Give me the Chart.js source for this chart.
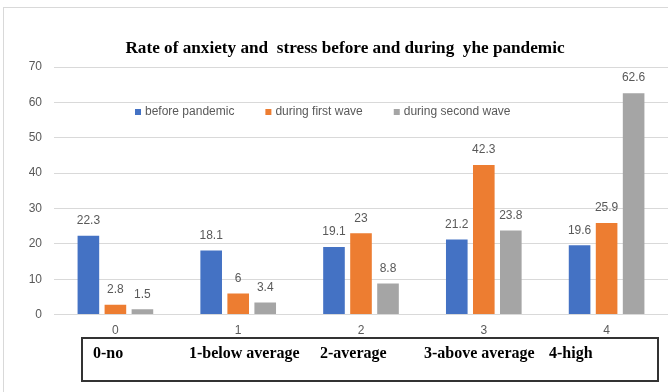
<!DOCTYPE html>
<html>
<head>
<meta charset="utf-8">
<script src="https://cdn.jsdelivr.net/npm/chart.js@4.4.0/dist/chart.umd.min.js"></script>
<style>
  html, body { margin: 0; padding: 0; background: #fff; }
  #wrap { position: relative; width: 668px; height: 392px; overflow: hidden; }
  #frame { position: absolute; left: 3px; top: 7px; width: 700px; height: 400px;
           border-left: 1px solid #d9d9d9; border-top: 1px solid #d9d9d9; }
  #chart { position: absolute; left: 0; top: 0; }
  #title { position: absolute; top: 38px; left: 0; width: 690px; text-align: center;
           font: bold 17.2px 'Liberation Serif', 'Times New Roman', serif; color: #000; white-space: pre; }
  #levels { position: absolute; left: 81px; top: 337px; width: 574px; height: 41px;
            border: 2px solid #333; }
  #levels span { position: absolute; top: 5px; font: bold 16px 'Liberation Serif', 'Times New Roman', serif;
                 color: #000; white-space: pre; }
</style>
</head>
<body>
<div id="wrap">
  <div id="frame"></div>
  <canvas id="chart" width="668" height="392"></canvas>
  <div id="title"></div>
  <div id="levels"></div>
</div>
<script>
// chart data
const categories = ['0', '1', '2', '3', '4'];
const seriesNames = ['before pandemic', 'during first wave', 'during second wave'];
const beforePandemic = [22.3, 18.1, 19.1, 21.2, 19.6];
const firstWave = [2.8, 6, 23, 42.3, 25.9];
const secondWave = [1.5, 3.4, 8.8, 23.8, 62.6];
const yMax = 70;
const yStep = 10;
const chartTitle = 'Rate of anxiety and  stress before and during  yhe pandemic';
const levelLabels = ['0-no', '1-below average', '2-average', '3-above average', '4-high'];

const colors = ['#4472C4', '#ED7D31', '#A5A5A5'];

document.getElementById('title').textContent = chartTitle;

// level legend box under the axis
const levelLeft = [10, 106, 237, 341, 466];
const levels = document.getElementById('levels');
levelLabels.forEach((txt, i) => {
    const s = document.createElement('span');
    s.textContent = txt;
    s.style.left = levelLeft[i] + 'px';
    levels.appendChild(s);
});

// values above each bar
const valueLabels = {
    id: 'valueLabels',
    afterDatasetsDraw(chart) {
        const ctx = chart.ctx;
        ctx.save();
        ctx.font = "12px 'Liberation Sans', Arial, sans-serif";
        ctx.fillStyle = '#595959';
        ctx.textAlign = 'center';
        ctx.textBaseline = 'middle';
        chart.data.datasets.forEach((ds, i) => {
            chart.getDatasetMeta(i).data.forEach((bar, j) => {
                ctx.fillText(String(ds.data[j]), bar.x, bar.y - 15);
            });
        });
        ctx.restore();
    }
};

// legend sits inside the plot area
const innerLegend = {
    id: 'innerLegend',
    afterDatasetsDraw(chart) {
        const ctx = chart.ctx;
        ctx.save();
        ctx.font = "12px 'Liberation Sans', Arial, sans-serif";
        ctx.textBaseline = 'middle';
        let x = 135;
        const y = 112;
        chart.data.datasets.forEach(ds => {
            ctx.fillStyle = ds.backgroundColor;
            ctx.fillRect(x, y - 3, 6, 6);
            ctx.fillStyle = '#595959';
            ctx.fillText(ds.label, x + 10, y);
            x += 10 + ctx.measureText(ds.label).width + 31;
        });
        ctx.restore();
    }
};

const ctx = document.getElementById('chart').getContext('2d');
new Chart(ctx, {
    type: 'bar',
    data: {
        labels: categories,
        datasets: [
            { label: seriesNames[0], data: beforePandemic, backgroundColor: colors[0] },
            { label: seriesNames[1], data: firstWave, backgroundColor: colors[1] },
            { label: seriesNames[2], data: secondWave, backgroundColor: colors[2] }
        ]
    },
    options: {
        responsive: false,
        animation: false,
        datasets: {
            bar: { categoryPercentage: 0.66, barPercentage: 0.8, borderWidth: 0 }
        },
        layout: { padding: { top: 67, left: 0, right: 0, bottom: 45 } },
        plugins: {
            legend: { display: false },
            title: { display: false },
            tooltip: { enabled: false }
        },
        scales: {
            x: {
                grid: { display: false, drawTicks: false },
                border: { display: false },
                ticks: {
                    padding: 9,
                    color: '#595959',
                    font: { family: "'Liberation Sans', Arial, sans-serif", size: 12 }
                }
            },
            y: {
                min: 0,
                max: yMax,
                afterFit(scale) { scale.width = 54; },
                grid: { color: '#d9d9d9', drawTicks: false },
                border: { display: false },
                ticks: {
                    stepSize: yStep,
                    padding: 12,
                    color: '#595959',
                    font: { family: "'Liberation Sans', Arial, sans-serif", size: 12 }
                }
            }
        }
    },
    plugins: [valueLabels, innerLegend]
});
</script>
</body>
</html>
